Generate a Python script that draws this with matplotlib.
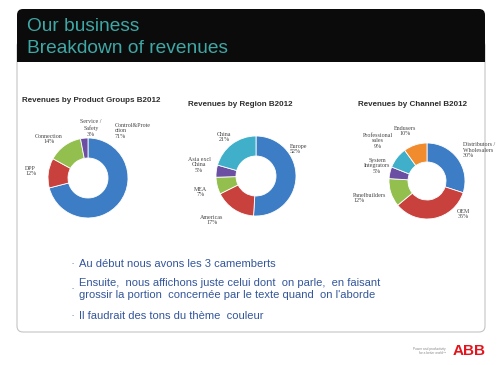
import matplotlib
matplotlib.use("Agg")
import matplotlib.pyplot as plt
from matplotlib.patches import FancyBboxPatch

W, H = 498, 365

# data
product_labels = ["Control&Prote\nction\n71%", "DPP\n12%", "Connection\n14%", "Service /\nSafety\n3%"]
product_values = [71, 12, 14, 3]

region_labels = ["Europe\n52%", "Americas\n17%", "MEA\n7%", "Asia excl\nChina\n5%", "China\n21%"]
region_values = [52, 17, 7, 5, 21]

channel_labels = ["Distributors /\nWholesalers\n30%", "OEM\n35%", "Panelbuilders\n12%",
                  "System\nIntegrators\n5%", "Professional\nsales\n9%", "Endusers\n10%"]
channel_values = [30, 34, 12, 5, 9, 10]

chart_titles = ["Revenues by Product Groups B2012", "Revenues by Region B2012",
                "Revenues by Channel B2012"]

bullets = ["Au début nous avons les 3 camemberts",
           "Ensuite,  nous affichons juste celui dont  on parle,  en faisant\ngrossir la portion  concernée par le texte quand  on l'aborde",
           "Il faudrait des tons du thème  couleur"]

BLUE, RED, GREEN, PURPLE, CYAN, ORANGE = "#3c7dc6", "#c8413c", "#93bf4f", "#6b4fa2", "#40afca", "#f08c2e"

# layout (pixel coords from top-left)
donuts = [
    dict(values=product_values, labels=product_labels, colors=[BLUE, RED, GREEN, PURPLE],
         center=(88, 178), r=40, title_xy=(91, 101),
         label_xy=[(115, 131, "left"), (25, 171, "left"), (49, 139, "center"), (91, 128, "center")]),
    dict(values=region_values, labels=region_labels, colors=[BLUE, RED, GREEN, PURPLE, CYAN],
         center=(256, 176), r=40, title_xy=(240, 104),
         label_xy=[(290, 149, "left"), (212, 220, "center"), (201, 192, "center"),
                   (199, 165, "center"), (224, 137, "center")]),
    dict(values=channel_values, labels=channel_labels, colors=[BLUE, RED, GREEN, PURPLE, CYAN, ORANGE],
         center=(427, 181), r=38, title_xy=(412, 104),
         label_xy=[(463, 150, "left"), (463, 214, "center"), (353, 198, "left"),
                   (377, 166, "center"), (378, 141, "center"), (405, 131, "center")]),
]

fig = plt.figure(figsize=(W / 100, H / 100), dpi=100)
fig.patch.set_facecolor("white")

bg = fig.add_axes([0, 0, 1, 1])
bg.set_xlim(0, W)
bg.set_ylim(H, 0)
bg.axis("off")

# slide frame
bg.add_patch(FancyBboxPatch((17, 40), 468, 292, boxstyle="round,pad=0,rounding_size=6",
                            facecolor="white", edgecolor="#c4c4c4", linewidth=0.8))
bg.add_patch(FancyBboxPatch((17, 9), 468, 53, boxstyle="round,pad=0,rounding_size=6",
                            facecolor="#0b0b0b", edgecolor="none"))
bg.add_patch(plt.Rectangle((17, 40), 468, 22, facecolor="#0b0b0b", edgecolor="none"))

bg.text(27, 31, "Our business", color="#3ea8a6", fontsize=13.8, family="Liberation Sans", va="baseline")
bg.text(27, 53, "Breakdown of revenues", color="#3ea8a6", fontsize=13.8, family="Liberation Sans", va="baseline")

for d, title in zip(donuts, chart_titles):
    cx, cy = d["center"]
    r = d["r"]
    ax = fig.add_axes([(cx - r) / W, 1 - (cy + r) / H, 2 * r / W, 2 * r / H])
    ax.pie(d["values"], colors=d["colors"], startangle=90, counterclock=False, radius=1,
           wedgeprops=dict(width=0.5, edgecolor="white", linewidth=0.6))
    ax.set_xlim(-1, 1)
    ax.set_ylim(-1, 1)
    ax.set_aspect("equal")
    ax.axis("off")

    bg.text(d["title_xy"][0], d["title_xy"][1], title, ha="center", va="center",
            fontsize=5.8, fontweight="bold", color="#2e2e2e", family="Liberation Sans")
    for lab, (lx, ly, ha) in zip(d["labels"], d["label_xy"]):
        bg.text(lx, ly, lab, ha=ha, va="center", fontsize=4.3, color="#444444",
                family="Liberation Serif", linespacing=1.2, multialignment=ha)

# bullet text
bullet_y = [264, 289, 316]
for txt, y in zip(bullets, bullet_y):
    bg.text(70, y, "·", ha="left", va="center", fontsize=9, color="#5b8fd0", family="Liberation Sans")
    bg.text(79, y, txt, ha="left", va="center", fontsize=8, color="#34569a",
            family="Liberation Sans", linespacing=1.3)

# ABB logo
bg.text(486, 351, "ABB", ha="right", va="center", fontsize=11, fontweight="bold",
        color="#e3141c", family="Liberation Sans")
bg.text(446, 351, "Power and productivity\nfor a better world™", ha="right", va="center",
        fontsize=2.3, color="#888888", family="Liberation Sans", multialignment="right")

fig.savefig("out.png", dpi=100, facecolor="white")
